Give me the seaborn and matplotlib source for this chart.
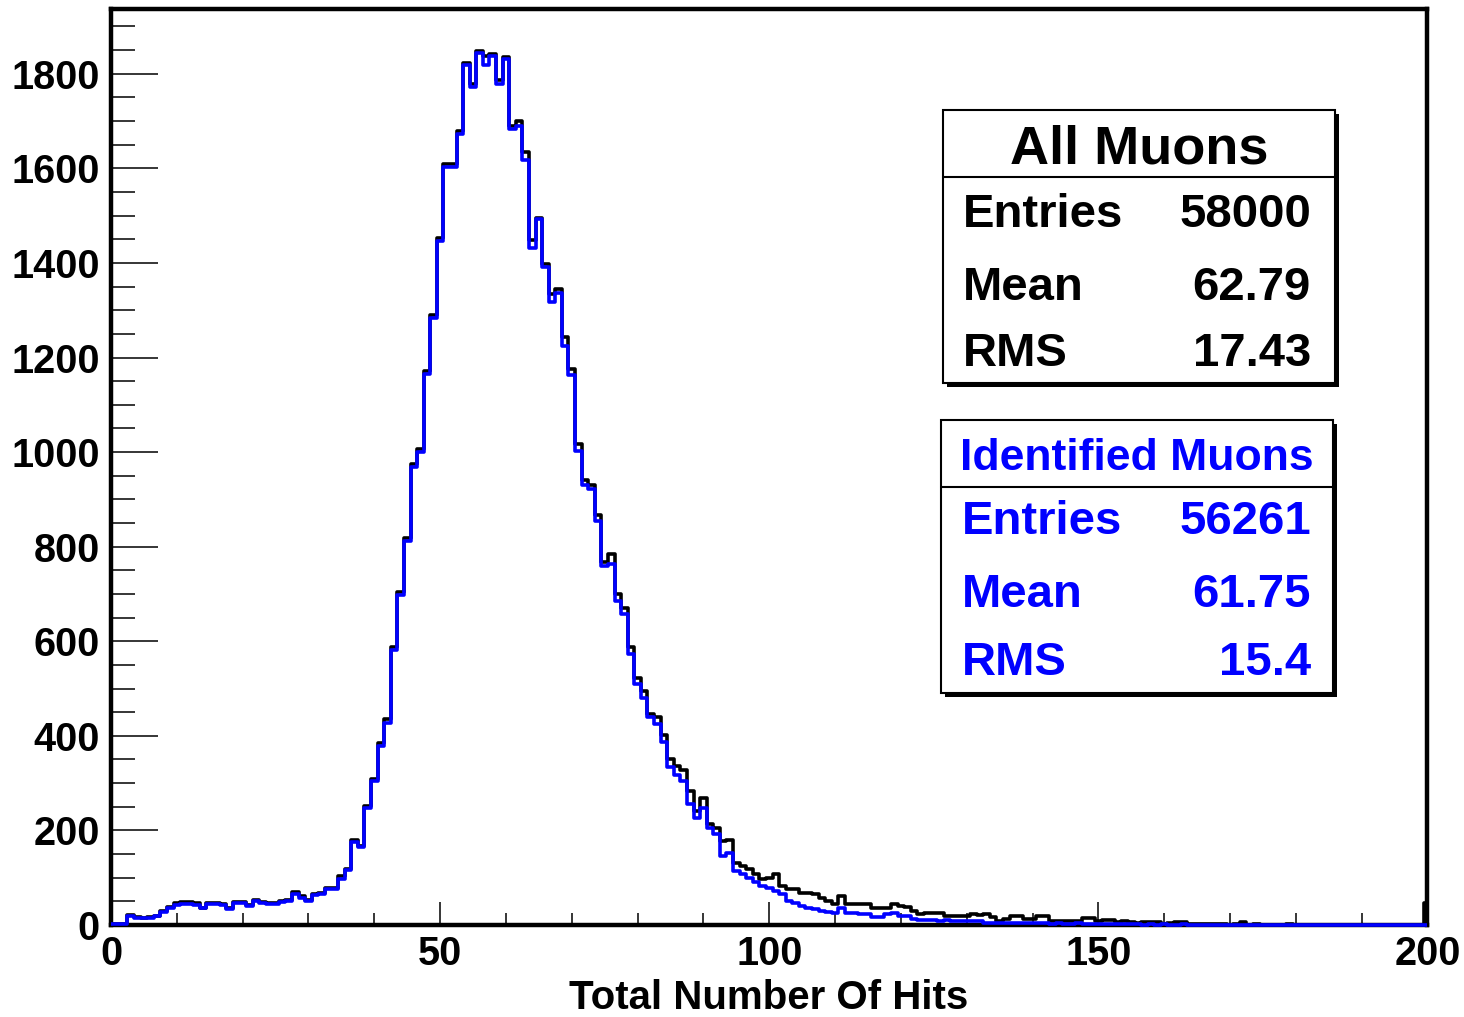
import numpy as np
import pandas as pd
import matplotlib
matplotlib.use("Agg")
import matplotlib.pyplot as plt
from matplotlib.patches import Rectangle
from matplotlib.ticker import MultipleLocator
import seaborn as sns

# Hit-count histograms, one entry per integer bin 0..200
hits = np.arange(0, 201)

all_muons = [
    2, 3, 3, 21, 16, 15, 16, 19, 30, 39,
    46, 48, 48, 47, 37, 46, 47, 45, 35, 49,
    48, 42, 53, 49, 47, 46, 51, 53, 70, 61,
    53, 65, 68, 79, 79, 104, 119, 179, 167, 252,
    309, 384, 435, 588, 704, 818, 975, 1007, 1172, 1290,
    1452, 1610, 1610, 1680, 1823, 1778, 1848, 1838, 1842, 1787,
    1836, 1690, 1700, 1634, 1448, 1496, 1398, 1335, 1344, 1243,
    1176, 1017, 940, 930, 866, 768, 784, 700, 671, 587,
    523, 495, 447, 439, 402, 351, 337, 328, 284, 241,
    269, 213, 206, 178, 180, 132, 125, 118, 107, 97,
    100, 107, 83, 76, 76, 68, 68, 65, 58, 51,
    45, 61, 44, 44, 44, 44, 37, 37, 37, 45,
    40, 38, 30, 23, 26, 26, 25, 19, 19, 18,
    19, 23, 22, 23, 16, 9, 12, 19, 18, 12,
    12, 19, 18, 9, 9, 8, 9, 9, 14, 15,
    8, 10, 10, 7, 8, 7, 4, 7, 6, 7,
    3, 4, 7, 6, 3, 2, 2, 3, 2, 2,
    1, 2, 7, 1, 2, 1, 1, 0, 1, 2,
    1, 0, 1, 1, 0, 1, 0, 0, 1, 0,
    1, 0, 0, 1, 0, 0, 0, 1, 0, 0,
    47,
]

identified_muons = [
    2, 3, 3, 20, 15, 14, 15, 18, 28, 36,
    42, 44, 44, 43, 35, 44, 45, 43, 33, 47,
    46, 40, 51, 47, 45, 44, 49, 51, 65, 58,
    51, 63, 66, 76, 76, 98, 116, 176, 164, 248,
    305, 379, 427, 582, 698, 812, 968, 1000, 1165, 1283,
    1446, 1603, 1603, 1673, 1818, 1772, 1844, 1818, 1838, 1779,
    1832, 1684, 1690, 1617, 1432, 1492, 1391, 1318, 1337, 1225,
    1162, 1003, 930, 922, 855, 760, 763, 686, 657, 573,
    509, 481, 440, 425, 386, 335, 317, 305, 255, 227,
    248, 206, 192, 146, 153, 114, 107, 100, 90, 83,
    79, 72, 65, 51, 47, 40, 37, 33, 30, 27,
    26, 37, 26, 26, 23, 23, 16, 16, 23, 26,
    19, 19, 12, 10, 11, 10, 9, 10, 9, 9,
    9, 8, 9, 5, 5, 4, 5, 4, 5, 4,
    4, 5, 4, 3, 4, 3, 3, 4, 3, 3,
    3, 2, 2, 3, 2, 2, 2, 1, 2, 1,
    2, 1, 1, 2, 1, 1, 1, 0, 1, 1,
    0, 1, 1, 0, 1, 0, 0, 1, 0, 0,
    1, 0, 0, 0, 1, 0, 0, 0, 0, 1,
    0, 0, 0, 0, 0, 0, 1, 0, 0, 0,
    0,
]

x_ticks = [0, 50, 100, 150, 200]
y_ticks = [0, 200, 400, 600, 800, 1000, 1200, 1400, 1600, 1800]
x_label = "Total Number Of Hits"

stats_all = {"title": "All Muons", "rows": [("Entries", "58000"), ("Mean", "62.79"), ("RMS", "17.43")]}
stats_id = {"title": "Identified Muons", "rows": [("Entries", "56261"), ("Mean", "61.75"), ("RMS", "15.4")]}

sns.set_theme(style="white")
plt.rcParams["font.family"] = ["Liberation Sans", "DejaVu Sans"]
plt.rcParams["font.weight"] = "bold"

W, H = 1464, 1017
fig = plt.figure(figsize=(W / 100, H / 100), dpi=100)
fig.patch.set_facecolor("white")


def fx(px):
    return px / W


def fy(py):
    return 1 - py / H


left, right, top, bottom = 111, 1427.5, 9, 925
ax = fig.add_axes([fx(left), fy(bottom), (right - left) / W, (bottom - top) / H])
ax.set_facecolor("white")

df_all = pd.DataFrame({"hits": hits, "count": all_muons})
df_id = pd.DataFrame({"hits": hits, "count": identified_muons})
BLUE = "#0000ff"
sns.histplot(data=df_all, x="hits", weights="count", binwidth=1, binrange=(-0.5, 200.5),
             element="step", fill=False, color="black", linewidth=2.6, ax=ax)
sns.histplot(data=df_id, x="hits", weights="count", binwidth=1, binrange=(-0.5, 200.5),
             element="step", fill=False, color=BLUE, linewidth=2.6, ax=ax)

ax.set_xlim(0, 200)
ax.set_ylim(0, 1937)

# let the outlines sit on top of the frame along the zero line
clip = Rectangle((0, -20), 200, 2000, transform=ax.transData, facecolor="none", edgecolor="none")
for i, ln in enumerate(ax.lines):
    ln.set_zorder(6 + i)
    ln.set_clip_path(clip)

ax.set_xticks(x_ticks)
ax.set_yticks(y_ticks)
ax.set_xticklabels([str(t) for t in x_ticks])
ax.set_yticklabels([str(t) for t in y_ticks])
ax.xaxis.set_minor_locator(MultipleLocator(10))
ax.yaxis.set_minor_locator(MultipleLocator(50))
ax.tick_params(axis="y", which="major", direction="in", length=34, width=1.1,
               labelsize=28.5, pad=8, left=True, right=False, color="black", labelcolor="black")
ax.tick_params(axis="y", which="minor", direction="in", length=17, width=1.1,
               left=True, right=False, color="black")
ax.tick_params(axis="x", which="major", direction="in", length=16.5, width=1.1,
               labelsize=28.5, pad=7, bottom=True, top=False, color="black", labelcolor="black")
ax.tick_params(axis="x", which="minor", direction="in", length=8.5, width=1.1,
               bottom=True, top=False, color="black")
for lab in ax.get_xticklabels() + ax.get_yticklabels():
    lab.set_fontweight("bold")
ax.set_xlabel("")
ax.set_ylabel("")
for sp in ax.spines.values():
    sp.set_visible(True)
    sp.set_color("black")
    sp.set_linewidth(3.2)
    sp.set_zorder(5)

fig.text(fx(769), fy(998), x_label, ha="center", va="center",
         fontsize=29, fontweight="bold", color="black")


def stat_box(x0, y0, x1, y1, sep, color, title_size, title_base, rows, row_size, row_bases,
             lx, rx, title):
    shadow = Rectangle((fx(x0 + 4), fy(y1 + 4)), (x1 - x0) / W, (y1 - y0) / H,
                       transform=fig.transFigure, facecolor="black", edgecolor="none", zorder=10)
    box = Rectangle((fx(x0), fy(y1)), (x1 - x0) / W, (y1 - y0) / H,
                    transform=fig.transFigure, facecolor="white", edgecolor="black",
                    linewidth=1.5, zorder=11)
    fig.add_artist(shadow)
    fig.add_artist(box)
    fig.add_artist(plt.Line2D([fx(x0), fx(x1)], [fy(sep), fy(sep)], transform=fig.transFigure,
                              color="black", linewidth=1.5, zorder=12))
    fig.text(fx((x0 + x1) / 2), fy(title_base), title, ha="center", va="baseline",
             fontsize=title_size, fontweight="bold", color=color, zorder=13)
    for (name, val), base in zip(rows, row_bases):
        fig.text(fx(lx), fy(base), name, ha="left", va="baseline",
                 fontsize=row_size, fontweight="bold", color=color, zorder=13)
        fig.text(fx(rx), fy(base), val, ha="right", va="baseline",
                 fontsize=row_size, fontweight="bold", color=color, zorder=13)


stat_box(943, 110, 1335, 383, 177, "black", 39, 163, stats_all["rows"], 34,
         [227, 300, 366], 963, 1311, stats_all["title"])
stat_box(941, 420, 1333, 693, 487, BLUE, 32, 470, stats_id["rows"], 34,
         [534, 607, 675], 962, 1311, stats_id["title"])

fig.savefig("out.png", dpi=100, facecolor="white")
